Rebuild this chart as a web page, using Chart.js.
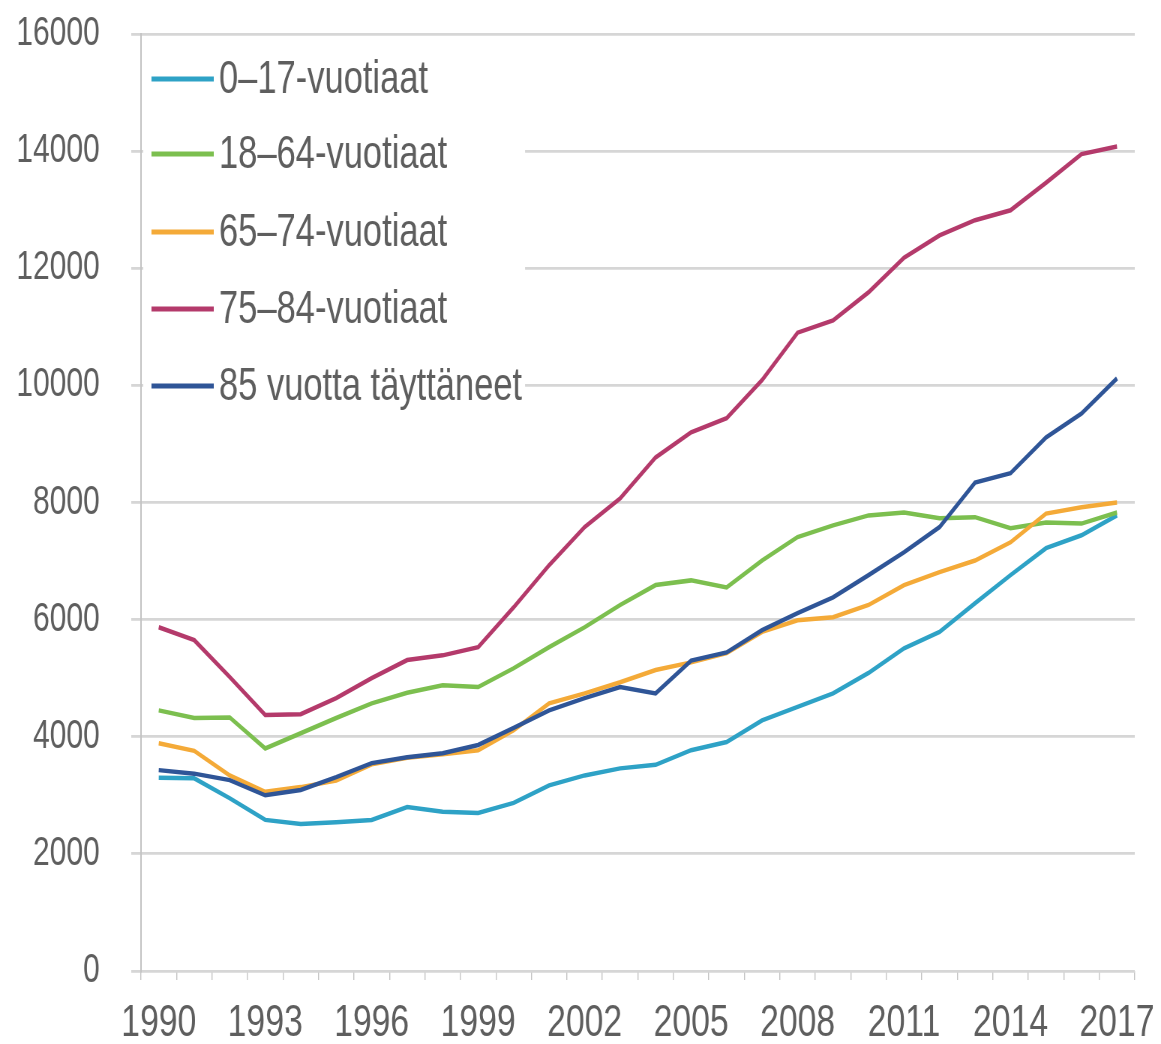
<!DOCTYPE html>
<html>
<head>
<meta charset="utf-8">
<script src="https://cdn.jsdelivr.net/npm/chart.js@4/dist/chart.umd.min.js"></script>
<style>
  html, body { margin: 0; padding: 0; background: #ffffff; overflow: hidden; }
  #outer { position: relative; width: 1161px; height: 1044px; overflow: hidden; }
  /* the reference chart is horizontally condensed: draw at a wider size and squeeze */
  #wrap { position: absolute; left: 0; top: 0; width: 1548px; height: 1044px;
          transform: scaleX(0.75); transform-origin: 0 0; }
</style>
</head>
<body>
<div id="outer"><div id="wrap"><canvas id="c"></canvas></div></div>
<script>
// ---- data ----
const years = ['1990','1991','1992','1993','1994','1995','1996','1997','1998','1999',
               '2000','2001','2002','2003','2004','2005','2006','2007','2008','2009',
               '2010','2011','2012','2013','2014','2015','2016','2017'];
const xTickLabels = ['1990','1993','1996','1999','2002','2005','2008','2011','2014','2017'];
const yTicks = [0, 2000, 4000, 6000, 8000, 10000, 12000, 14000, 16000];

const seriesNames = ['0–17-vuotiaat', '18–64-vuotiaat', '65–74-vuotiaat', '75–84-vuotiaat', '85 vuotta täyttäneet'];

const age0to17 = [3300, 3290, 2950, 2580, 2510, 2540, 2580, 2800, 2720, 2700,
                  2870, 3170, 3340, 3460, 3520, 3770, 3910, 4280, 4510, 4740,
                  5090, 5510, 5790, 6280, 6760, 7220, 7440, 7780];
const age18to64 = [4450, 4320, 4330, 3800, 4060, 4320, 4570, 4750, 4880, 4850,
                   5170, 5530, 5870, 6250, 6590, 6670, 6550, 7010, 7410, 7610,
                   7780, 7830, 7730, 7750, 7560, 7660, 7640, 7830];
const age65to74 = [3890, 3760, 3340, 3060, 3140, 3250, 3530, 3640, 3700, 3770,
                   4110, 4570, 4740, 4930, 5140, 5270, 5430, 5790, 5990, 6040,
                   6250, 6590, 6810, 7010, 7320, 7810, 7920, 8000];
const age75to84 = [5870, 5650, 5020, 4370, 4385, 4660, 5000, 5310, 5390, 5530,
                   6210, 6930, 7580, 8070, 8770, 9200, 9440, 10090, 10900, 11110,
                   11590, 12180, 12560, 12820, 12990, 13460, 13950, 14080];
const age85plus = [3430, 3370, 3260, 3000, 3090, 3310, 3550, 3650, 3720, 3860,
                   4150, 4450, 4660, 4850, 4740, 5300, 5440, 5820, 6110, 6380,
                   6760, 7150, 7580, 8340, 8500, 9110, 9520, 10120];

// ---- styles ----
const colors = ['#2ea2c6', '#7cbf4f', '#f4aa38', '#b43a6b', '#2f5597'];
const FONT = '"Liberation Sans", Arial, sans-serif';
const textColor = '#5e5e5e';

const allSeries = [age0to17, age18to64, age65to74, age75to84, age85plus];
const drawOrder = [4, 3, 2, 1, 0];

const datasets = allSeries.map((vals, i) => ({
  label: seriesNames[i],
  data: vals,
  borderColor: colors[i],
  backgroundColor: colors[i],
  borderWidth: 4.5,
  pointRadius: 0,
  tension: 0,
  fill: false,
  order: drawOrder[i]
}));

const insideLegend = {
  id: 'insideLegend',
  afterDraw(chart) {
    const ctx = chart.ctx;
    const a = chart.chartArea;
    ctx.save();
    ctx.font = '46px ' + FONT;
    const lineX0 = a.left + 14, lineX1 = a.left + 97, textX = a.left + 104;
    let maxW = 0;
    seriesNames.forEach(n => { maxW = Math.max(maxW, ctx.measureText(n).width); });
    const top = a.top + 8, bottom = a.top + 362;
    ctx.fillStyle = '#ffffff';
    ctx.fillRect(a.left + 3, top, textX + maxW + 4 - (a.left + 3), bottom - top);
    const ys = [45, 120, 198, 275, 352];
    seriesNames.forEach((n, i) => {
      const y = a.top + ys[i];
      ctx.strokeStyle = colors[i];
      ctx.lineWidth = 5;
      ctx.lineCap = 'butt';
      ctx.beginPath();
      ctx.moveTo(lineX0, y);
      ctx.lineTo(lineX1, y);
      ctx.stroke();
      ctx.fillStyle = textColor;
      ctx.textBaseline = 'middle';
      ctx.textAlign = 'left';
      ctx.fillText(n, textX, y + 1);
    });
    ctx.restore();
  }
};

new Chart(document.getElementById('c'), {
  type: 'line',
  data: { labels: years, datasets: datasets },
  options: {
    responsive: true,
    maintainAspectRatio: false,
    animation: false,
    devicePixelRatio: 1,
    layout: { padding: { top: 34, right: 35, left: 0, bottom: 0 } },
    plugins: { legend: { display: false }, tooltip: { enabled: false } },
    scales: {
      x: {
        type: 'category',
        offset: true,
        grid: { offset: true, drawOnChartArea: false, drawTicks: true, tickLength: 9, color: '#c4c4c4', lineWidth: 1.4 },
        border: { display: false },
        ticks: {
          autoSkip: false, maxRotation: 0, minRotation: 0, padding: 17,
          color: textColor, font: { family: FONT, size: 45 },
          callback: function(value, index) {
            const lab = this.getLabelForValue(value);
            return xTickLabels.includes(lab) ? lab : '';
          }
        },
        afterFit: (s) => { s.height = 73; s.paddingLeft = 0; s.paddingRight = 0; }
      },
      y: {
        min: yTicks[0],
        max: yTicks[yTicks.length - 1],
        afterBuildTicks: (s) => { s.ticks = yTicks.map(v => ({ value: v })); },
        grid: { color: '#d6d6d6', lineWidth: 2.8, drawTicks: true, tickLength: 13 },
        border: { display: true, color: '#c4c4c4', width: 2 },
        ticks: {
          padding: 42, color: textColor, font: { family: FONT, size: 40 },
          callback: (v) => String(v)
        },
        afterFit: (s) => { s.width = 188; s.paddingTop = 0; s.paddingBottom = 0; }
      }
    }
  },
  plugins: [insideLegend]
});
</script>
</body>
</html>
